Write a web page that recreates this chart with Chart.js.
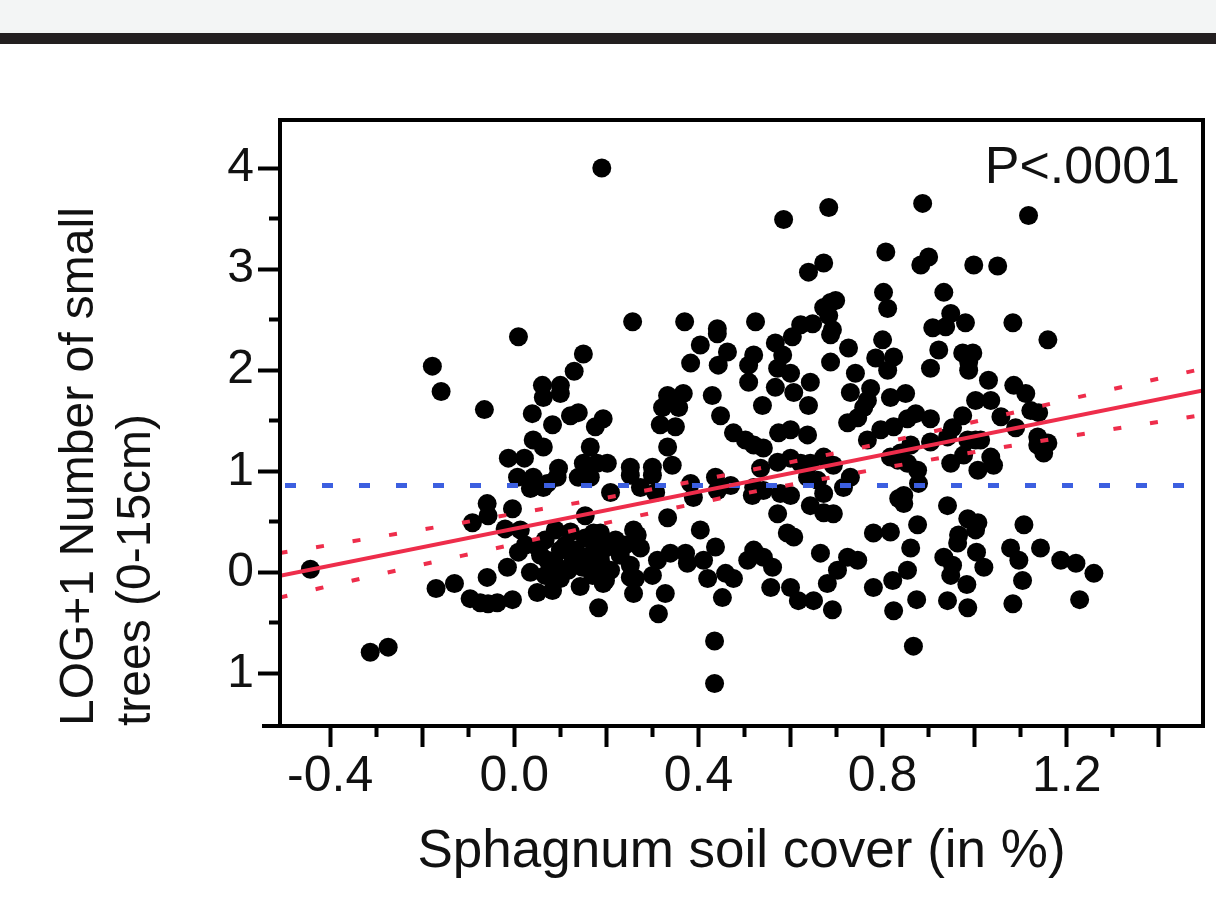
<!DOCTYPE html>
<html><head><meta charset="utf-8">
<script src="https://cdn.jsdelivr.net/npm/chart.js@4.4.0/dist/chart.umd.min.js"></script>
<style>
html,body{margin:0;padding:0;background:#fff;overflow:hidden;}
#band{position:absolute;left:0;top:0;width:1216px;height:33px;background:#f3f5f5;}
#bar{position:absolute;left:0;top:33px;width:1216px;height:11px;background:#231f20;}
#wrap{position:absolute;left:0;top:0;width:1216px;height:906px;}
</style></head><body>
<div id="band"></div><div id="bar"></div>
<div id="wrap"><canvas id="c" width="1216" height="906"></canvas></div>
<script>
// Sphagnum soil cover (x) and LOG+1 number of small trees (y)
const soilCover = [
0.19,0.585,0.683,0.807,0.672,0.639,0.802,0.811,0.687,0.698,
0.672,0.683,0.257,0.37,0.441,0.524,0.622,0.648,0.691,0.887,
1.117,0.90,0.883,0.998,1.05,0.933,0.948,0.98,0.909,0.937,
1.083,0.009,-0.178,-0.159,-0.065,0.15,0.13,0.061,0.10,0.063,
0.10,0.122,0.139,0.039,0.083,0.041,0.063,-0.013,0.022,0.15,
0.139,0.159,0.096,0.093,0.072,0.007,0.041,0.035,0.063,-0.059,
-0.057,-0.004,-0.091,-0.02,0.154,-0.443,-0.313,-0.274,-0.17,-0.13,
-0.096,-0.074,-0.057,-0.037,-0.004,-0.059,-0.015,0.009,0.035,0.05,
0.083,0.05,0.072,0.10,0.128,0.148,0.143,0.024,0.067,0.089,
0.111,0.117,0.133,0.165,0.176,0.187,0.198,0.209,0.22,0.23,
0.241,0.252,0.17,0.198,0.10,0.067,0.154,0.187,0.122,0.089,
0.057,0.013,0.263,0.274,0.183,0.313,0.452,0.435,0.435,0.691,
0.78,0.824,0.822,0.18,0.193,0.252,0.259,0.30,0.328,0.311,
0.339,0.372,0.376,0.411,0.42,0.437,0.459,0.476,0.507,0.52,
0.541,0.561,0.557,0.60,0.617,0.65,0.665,0.68,0.702,0.724,
0.746,0.861,0.854,0.874,0.867,0.933,0.952,0.948,0.963,1.004,
1.02,0.983,0.941,0.985,1.078,1.096,1.143,1.104,1.083,1.187,
1.22,1.259,1.228,
0.441,0.404,0.463,0.383,0.443,0.52,0.509,0.567,0.583,0.572,
0.60,0.604,0.687,0.726,0.80,0.785,0.824,0.811,0.687,0.509,
0.567,0.607,0.643,0.741,0.73,0.774,0.767,0.817,
0.333,0.367,0.322,0.357,0.43,0.448,0.539,0.639,0.724,0.746,
0.759,0.193,0.176,0.317,0.35,0.333,0.476,0.502,0.52,0.541,
0.574,0.60,0.637,0.767,0.796,0.824,0.165,0.18,0.202,0.252,
0.252,0.30,0.30,0.343,0.572,0.60,0.622,0.643,0.672,0.693,
0.535,0.817,0.833,0.165,0.209,0.274,0.307,0.383,0.389,0.437,
0.441,0.47,0.52,0.541,0.517,0.578,0.60,0.637,0.659,0.672,
0.643,0.672,0.693,0.73,0.715,0.835,0.333,0.572,0.404,0.259,
0.267,0.172,
0.593,0.607,0.78,0.817,
1.159,
0.922,0.974,0.996,0.987,0.987,0.904,
1.03,1.085,1.111,0.85,1.002,1.035,1.122,1.139,1.057,0.974,
0.872,0.854,0.904,1.089,0.952,0.941,1.002,1.013,0.985,0.904,
1.137,1.159,1.137,1.15,0.861,0.839,0.854,0.876,0.976,0.948,
1.035,1.041,1.007,0.878,0.846,0.846,0.941,0.985,1.007,1.002,
0.965,0.876,1.107
];
const smallTrees = [
4.00,3.49,3.61,3.17,3.06,2.97,2.77,2.61,2.67,2.69,
2.62,2.54,2.48,2.48,2.41,2.48,2.45,2.46,2.40,3.65,
3.53,3.12,3.04,3.04,3.03,2.77,2.56,2.47,2.42,2.43,
2.47,2.33,2.04,1.79,1.61,2.16,1.99,1.85,1.85,1.73,
1.77,1.55,1.58,1.57,1.46,1.31,1.24,1.13,1.13,1.08,
0.94,0.98,1.03,0.94,0.88,0.94,0.94,0.83,0.84,0.68,
0.56,0.63,0.49,0.43,0.56,0.03,-0.79,-0.74,-0.16,-0.11,
-0.26,-0.30,-0.31,-0.30,-0.27,-0.05,0.05,0.20,0.00,-0.20,
-0.18,0.25,0.12,0.22,0.12,0.05,-0.14,0.27,0.32,0.08,
0.27,0.02,0.22,0.17,0.27,0.12,0.24,0.02,0.32,0.17,
0.27,0.07,-0.03,-0.08,-0.06,-0.03,0.34,0.39,0.40,0.42,
0.17,0.42,-0.06,0.24,-0.35,-0.41,-0.25,-0.68,-1.10,-0.37,
-0.15,-0.38,-0.08,0.06,-0.11,-0.05,-0.21,-0.03,-0.21,0.12,
0.19,0.19,0.09,0.12,-0.06,0.25,-0.01,-0.06,0.12,0.22,
0.15,0.05,-0.15,-0.15,-0.28,-0.28,0.19,-0.11,0.02,0.15,
0.12,0.24,0.02,-0.27,-0.73,0.15,0.07,-0.03,0.29,0.20,
0.05,-0.12,-0.28,-0.35,0.24,0.12,0.24,-0.08,-0.31,0.12,
0.09,-0.01,-0.27,
2.36,2.25,2.18,2.07,2.05,2.15,2.05,2.27,2.15,2.02,
1.97,2.33,2.35,2.22,2.30,2.12,2.13,2.00,2.08,1.88,
1.83,1.78,1.88,1.97,1.78,1.82,1.70,1.73,
1.75,1.77,1.63,1.63,1.75,1.55,1.65,1.65,1.48,1.53,
1.63,1.52,1.44,1.46,1.44,1.24,1.38,1.31,1.26,1.23,
1.38,1.41,1.36,1.31,1.41,1.44,1.24,1.08,1.08,1.04,
0.96,1.04,0.96,1.06,1.09,1.13,1.08,1.08,1.14,1.06,
1.03,1.14,1.11,0.94,0.79,0.84,0.79,0.88,0.74,0.94,
0.81,0.86,0.84,0.81,0.76,0.78,0.76,0.94,0.91,0.78,
0.66,0.59,0.58,0.94,0.84,0.73,0.54,0.58,0.42,0.42,
0.37,0.39,
0.39,0.35,0.39,0.40,
2.30,
2.20,2.17,2.17,2.08,2.00,2.02,
1.90,1.85,1.77,1.77,1.70,1.70,1.60,1.58,1.54,1.55,
1.57,1.52,1.52,1.43,1.43,1.34,1.31,1.31,1.31,1.29,
1.34,1.28,1.26,1.18,1.26,1.18,1.08,1.01,1.16,1.08,
1.14,1.06,1.01,0.88,0.76,0.68,0.66,0.53,0.49,0.42,
0.37,0.47,0.47
];

// fitted regression line (endpoints), confidence band, and mean line
const fitX = [-0.509, 1.496];
const fitY = [-0.035, 1.80];
const bandX = [-0.51, -0.25, 0, 0.25, 0.5, 0.75, 1.0, 1.25, 1.5];
const bandUpper = [0.19, 0.385, 0.58, 0.78, 1.0, 1.23, 1.49, 1.76, 2.02];
const bandLower = [-0.25, 0.025, 0.28, 0.54, 0.78, 0.99, 1.19, 1.38, 1.56];
const meanX = [-0.509, 1.496];
const meanY = [0.86, 0.86];

// axes
const xMin = -0.509, xMax = 1.496;
const yMin = -1.52, yMax = 4.475;
const xTickValues = [-0.4,-0.3,-0.2,-0.1,0,0.1,0.2,0.3,0.4,0.5,0.6,0.7,0.8,0.9,1.0,1.1,1.2,1.3,1.4];
const xLabelValues = [-0.4, 0, 0.4, 0.8, 1.2];
const xLabelTexts = ['-0.4', '0.0', '0.4', '0.8', '1.2'];
const yTickValues = [-1,-0.5,0,0.5,1,1.5,2,2.5,3,3.5,4];
const yLabelValues = [-1, 0, 1, 2, 3, 4];
const yLabelTexts = ['1', '0', '1', '2', '3', '4'];
const xTitle = 'Sphagnum soil cover (in %)';
const yTitle = ['LOG+1 Number of small', 'trees (0-15cm)'];
const pText = 'P<.0001';

const FONT = '"Liberation Sans", Arial, Helvetica, sans-serif';
Chart.defaults.font.family = FONT;
Chart.defaults.color = '#111';

const near = (a, b) => Math.abs(a - b) < 1e-6;
const labelFor = (v, vals, texts) => { const i = vals.findIndex(t => near(t, v)); return i >= 0 ? texts[i] : ''; };
const isMajorX = v => near(Math.round(v * 10) % 2, 0);
const isMajorY = v => near(v, Math.round(v));

const pts = soilCover.slice(0, Math.min(soilCover.length, smallTrees.length)).map((x, i) => ({x, y: smallTrees[i]}));
const toXY = (xs, ys) => xs.map((x, i) => ({x, y: ys[i]}));

const framePlugin = {
  id: 'frame',
  afterDatasetsDraw(chart) {
    const {ctx, chartArea: a} = chart;
    ctx.save();
    ctx.strokeStyle = '#000';
    ctx.lineWidth = 4;
    ctx.beginPath();
    ctx.moveTo(a.left, a.top); ctx.lineTo(a.right, a.top); ctx.lineTo(a.right, a.bottom);
    ctx.lineTo(a.left - 18, a.bottom);
    ctx.moveTo(a.left, a.bottom); ctx.lineTo(a.left, a.top - 2);
    ctx.stroke();
    ctx.font = '52px ' + FONT;
    ctx.fillStyle = '#111';
    ctx.textAlign = 'right';
    ctx.textBaseline = 'alphabetic';
    ctx.fillText(pText, a.right - 23, a.top + 63);
    ctx.restore();
  }
};

new Chart(document.getElementById('c'), {
  type: 'scatter',
  data: {
    datasets: [
      { label: 'fit', type: 'line', data: toXY(fitX, fitY), borderColor: '#ee2d4b', borderWidth: 4, pointRadius: 0, order: 1 },
      { label: 'upper', type: 'line', data: toXY(bandX, bandUpper), borderColor: '#ee2d4b', borderWidth: 4, borderDash: [8, 29], pointRadius: 0, cubicInterpolationMode: 'monotone', order: 2 },
      { label: 'lower', type: 'line', data: toXY(bandX, bandLower), borderColor: '#ee2d4b', borderWidth: 4, borderDash: [8, 29], pointRadius: 0, cubicInterpolationMode: 'monotone', order: 2 },
      { label: 'mean', type: 'line', data: toXY(meanX, meanY), borderColor: '#3c5fe0', borderWidth: 5, borderDash: [11, 26], borderDashOffset: 32, pointRadius: 0, order: 3 },
      { label: 'plots', data: pts, backgroundColor: '#000', borderWidth: 0, pointRadius: 9.5, pointHoverRadius: 9.5, order: 10 }
    ]
  },
  options: {
    responsive: false,
    devicePixelRatio: 1,
    animation: false,
    events: [],
    layout: { padding: { top: 120, right: 13, left: 0, bottom: 0 } },
    plugins: { legend: { display: false }, tooltip: { enabled: false } },
    scales: {
      x: {
        type: 'linear', position: 'bottom', min: xMin, max: xMax,
        afterBuildTicks: s => { s.ticks = xTickValues.map(v => ({value: v})); },
        afterFit: s => { s.height = 180; },
        border: { display: false },
        grid: {
          drawOnChartArea: false, drawTicks: true, tickLength: 21, tickWidth: 4, tickColor: '#000',
          tickBorderDash: ctx => (ctx.tick && !isMajorX(ctx.tick.value)) ? [11, 100] : []
        },
        ticks: {
          autoSkip: false, maxRotation: 0, padding: 0, color: '#111',
          font: { size: 50 },
          callback: v => labelFor(v, xLabelValues, xLabelTexts)
        },
        title: { display: true, text: xTitle, color: '#111', font: { size: 53, lineHeight: 1.2 }, padding: { top: 0, bottom: 22 } }
      },
      y: {
        type: 'linear', position: 'left', min: yMin, max: yMax,
        afterBuildTicks: s => { s.ticks = yTickValues.map(v => ({value: v})); },
        afterFit: s => { s.width = 280; },
        border: { display: false },
        grid: {
          drawOnChartArea: false, drawTicks: true, tickLength: 22, tickWidth: 4, tickColor: '#000',
          tickBorderDash: ctx => (ctx.tick && !isMajorY(ctx.tick.value)) ? [0, 11, 11, 100] : []
        },
        ticks: {
          autoSkip: false, padding: 4, color: '#111',
          font: { size: 48 },
          callback: v => labelFor(v, yLabelValues, yLabelTexts)
        },
        title: { display: true, text: yTitle, align: 'start', color: '#111', font: { size: 48, lineHeight: 1.19 }, padding: { top: 51, bottom: 0 } }
      }
    }
  },
  plugins: [framePlugin]
});
</script></body></html>
